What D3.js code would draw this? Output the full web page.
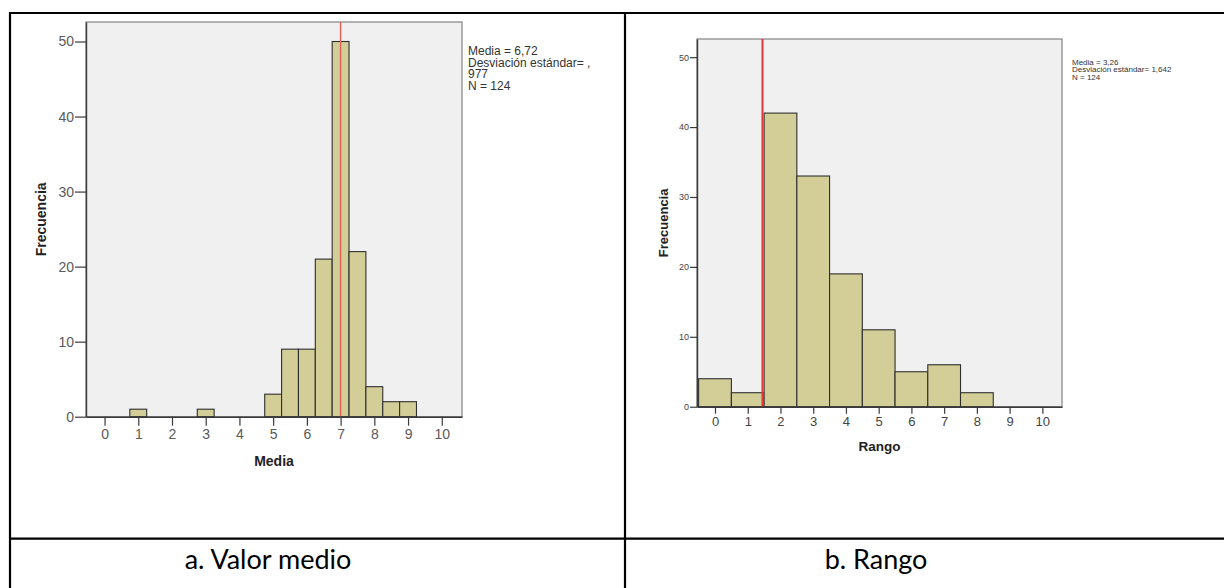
<!DOCTYPE html>
<html>
<head>
<meta charset="utf-8">
<script src="https://cdn.jsdelivr.net/npm/d3@7"></script>
<style>
  body { margin: 0; background: #fff; }
  svg { display: block; }
</style>
</head>
<body>
<svg id="fig" width="1224" height="588"></svg>
<script>
// ---- a. Valor medio: histogram of the mean score, bins of width 0.5
const mediaBinStarts = [0.75, 2.75, 4.75, 5.25, 5.75, 6.25, 6.75, 7.25, 7.75, 8.25, 8.75];
const mediaCounts    = [1, 1, 3, 9, 9, 21, 50, 22, 4, 2, 2];
const mediaBinWidth  = 0.5;
const mediaRefLine   = 7;
const mediaStats     = ["Media = 6,72", "Desviación estándar= ,", "977", "N = 124"];

// ---- b. Rango: histogram of the range, bins of width 1
const rangoBinStarts = [-0.5, 0.5, 1.5, 2.5, 3.5, 4.5, 5.5, 6.5, 7.5];
const rangoCounts    = [4, 2, 42, 33, 19, 11, 5, 6, 2];
const rangoBinWidth  = 1;
const rangoRefLine   = 1.45;
const rangoStats     = ["Media = 3,26", "Desviación estándar= 1,642", "N = 124"];

// ---- shared axes
const xTicks  = [0, 1, 2, 3, 4, 5, 6, 7, 8, 9, 10];
const yTicks  = [0, 10, 20, 30, 40, 50];
const xDomain = [-0.55, 10.6];
const yMax    = 52.6;

const captions = ["a. Valor medio", "b. Rango"];

const svg = d3.select("#fig");

// table grid around the two panels
const grid = svg.append("g").attr("stroke", "#000").attr("stroke-width", 2.2);
grid.append("line").attr("x1", 9).attr("x2", 1224).attr("y1", 13).attr("y2", 13);
grid.append("line").attr("x1", 9).attr("x2", 1224).attr("y1", 538.7).attr("y2", 538.7);
grid.append("line").attr("x1", 10).attr("x2", 10).attr("y1", 12).attr("y2", 588);
grid.append("line").attr("x1", 625).attr("x2", 625).attr("y1", 12).attr("y2", 588);

function drawPanel(cfg) {
  const g = svg.append("g");
  const x = d3.scaleLinear().domain(xDomain).range([cfg.left, cfg.right]);
  const y = d3.scaleLinear().domain([0, yMax]).range([cfg.bottom, cfg.top]);

  // plot background and frame
  g.append("rect")
    .attr("x", cfg.left).attr("y", cfg.top)
    .attr("width", cfg.right - cfg.left).attr("height", cfg.bottom - cfg.top)
    .attr("fill", "#f0f0f0").attr("stroke", "#8c8c8c").attr("stroke-width", 1.3);

  // bars
  g.selectAll("rect.bar")
    .data(cfg.starts.map((s, i) => ({ s, c: cfg.counts[i] })))
    .join("rect")
    .attr("class", "bar")
    .attr("x", d => x(d.s))
    .attr("y", d => y(d.c))
    .attr("width", d => x(d.s + cfg.binWidth) - x(d.s))
    .attr("height", d => y(0) - y(d.c))
    .attr("fill", "#d3ce97")
    .attr("stroke", "#2f2f2f")
    .attr("stroke-width", 1.1);

  // reference line
  g.append("line")
    .attr("x1", x(cfg.ref)).attr("x2", x(cfg.ref))
    .attr("y1", cfg.top).attr("y2", cfg.bottom)
    .attr("stroke", cfg.refColor).attr("stroke-width", cfg.refWidth);

  // y axis
  const ya = g.append("g")
    .attr("transform", `translate(${cfg.left},0)`)
    .call(d3.axisLeft(y).tickValues(yTicks).tickSize(cfg.yTickLen).tickSizeOuter(0).tickPadding(1));
  ya.select(".domain").attr("stroke", "#3a3a3a").attr("stroke-width", 1.4);
  ya.selectAll(".tick line").attr("stroke", "#3a3a3a").attr("stroke-width", 1.2);
  ya.selectAll(".tick text")
    .attr("font-family", "Liberation Sans, Arial, sans-serif")
    .attr("font-size", cfg.yFont).attr("fill", cfg.tickColor);

  // x axis
  const xa = g.append("g")
    .attr("transform", `translate(0,${cfg.bottom})`)
    .call(d3.axisBottom(x).tickValues(xTicks).tickSize(cfg.xTickLen).tickSizeOuter(0).tickPadding(3));
  xa.select(".domain").attr("stroke", "#3a3a3a").attr("stroke-width", 1.4);
  xa.selectAll(".tick line").attr("stroke", "#3a3a3a").attr("stroke-width", 1.2);
  xa.selectAll(".tick text")
    .attr("font-family", "Liberation Sans, Arial, sans-serif")
    .attr("font-size", cfg.xFont).attr("fill", cfg.tickColor);

  // axis titles
  g.append("text")
    .attr("x", (cfg.left + cfg.right) / 2).attr("y", cfg.xTitleY)
    .attr("text-anchor", "middle")
    .attr("font-family", "Liberation Sans, Arial, sans-serif")
    .attr("font-weight", "bold").attr("font-size", cfg.titleFont).attr("fill", "#222")
    .text(cfg.xTitle);
  g.append("text")
    .attr("transform", `translate(${cfg.yTitleX},${(cfg.top + cfg.bottom) / 2}) rotate(-90)`)
    .attr("text-anchor", "middle")
    .attr("font-family", "Liberation Sans, Arial, sans-serif")
    .attr("font-weight", "bold").attr("font-size", cfg.yTitleFont).attr("fill", "#222")
    .text("Frecuencia");

  // summary statistics
  g.append("g").selectAll("text")
    .data(cfg.stats)
    .join("text")
    .attr("x", cfg.statsX)
    .attr("y", (d, i) => cfg.statsY + i * cfg.statsStep)
    .attr("font-family", "Liberation Sans, Arial, sans-serif")
    .attr("font-size", cfg.statsFont).attr("fill", "#333")
    .text(d => d);

  // caption in the lower table row
  g.append("text")
    .attr("x", cfg.captionX).attr("y", 569)
    .attr("text-anchor", "middle")
    .attr("font-family", "Lato, 'Open Sans', sans-serif")
    .attr("font-size", 27).attr("fill", "#000")
    .text(cfg.caption);
}

drawPanel({
  left: 86, right: 462, top: 22, bottom: 416.7,
  starts: mediaBinStarts, counts: mediaCounts, binWidth: mediaBinWidth,
  ref: mediaRefLine, refColor: "#e0645a", refWidth: 1.5,
  yTickLen: 11, xTickLen: 9, yFont: 14, xFont: 14, tickColor: "#5a5a5a",
  xTitle: "Media", xTitleY: 466, titleFont: 14,
  yTitleX: 46, yTitleFont: 14,
  stats: mediaStats, statsX: 468, statsY: 55, statsStep: 11.7, statsFont: 12,
  caption: captions[0], captionX: 268
});

drawPanel({
  left: 697, right: 1062, top: 39, bottom: 406.7,
  starts: rangoBinStarts, counts: rangoCounts, binWidth: rangoBinWidth,
  ref: rangoRefLine, refColor: "#e8343a", refWidth: 2,
  yTickLen: 7, xTickLen: 7, yFont: 9, xFont: 13, tickColor: "#444",
  xTitle: "Rango", xTitleY: 451, titleFont: 13.5,
  yTitleX: 668, yTitleFont: 13,
  stats: rangoStats, statsX: 1072, statsY: 64.5, statsStep: 7.8, statsFont: 8,
  caption: captions[1], captionX: 876
});
</script>
</body>
</html>
